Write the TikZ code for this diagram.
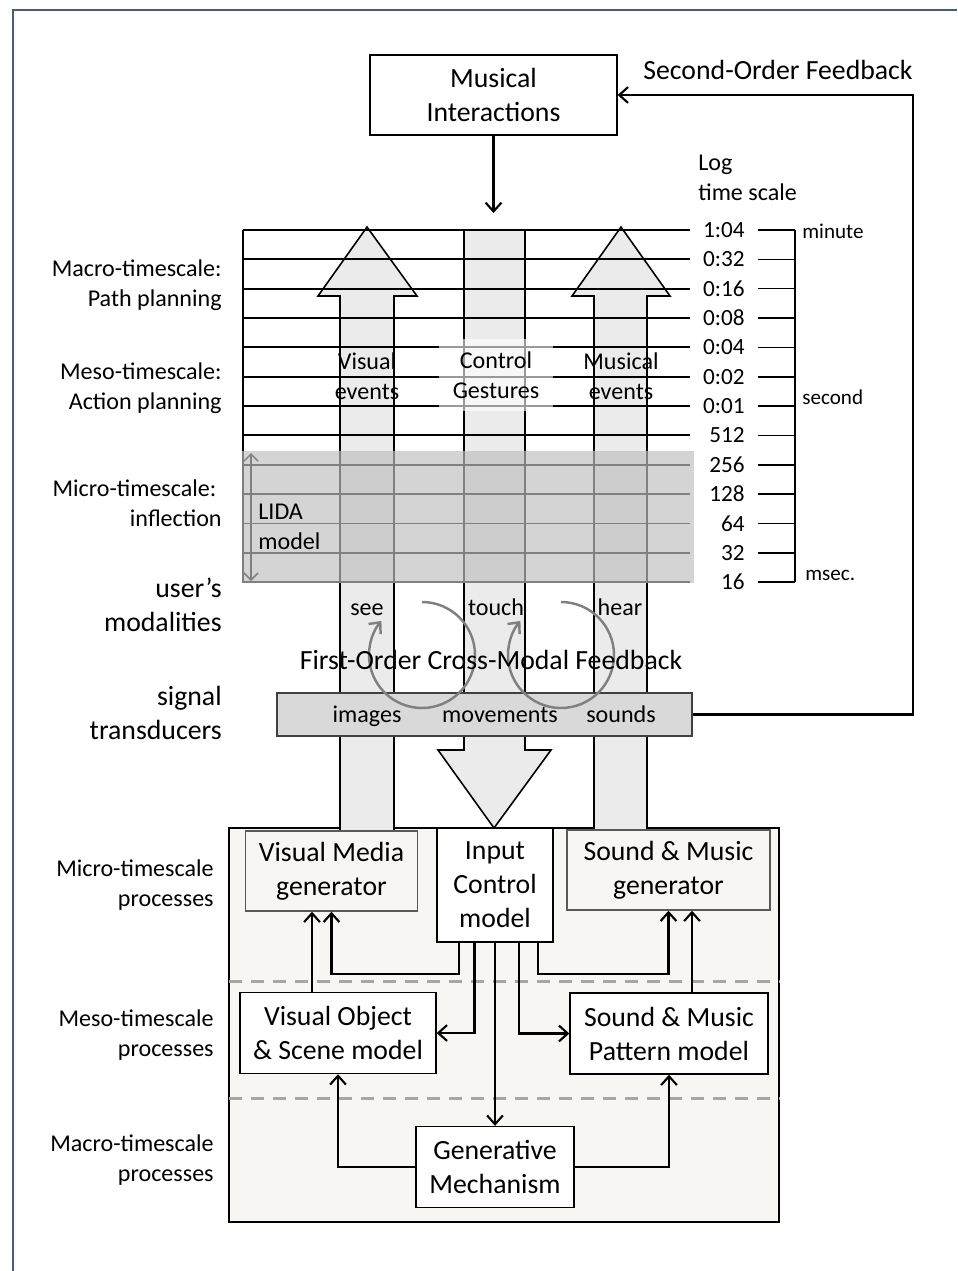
\documentclass[tikz,border=0pt]{standalone}
\usepackage{fontspec}
\setmainfont{Carlito}
\usetikzlibrary{arrows.meta,positioning}

\definecolor{framecol}{HTML}{4A5B7A}
\definecolor{shaftfill}{HTML}{EBEBEB}
\definecolor{basefill}{HTML}{F7F6F2}
\definecolor{bandfill}{HTML}{D9D9D9}

\begin{document}
\begin{tikzpicture}[x=0.02cm,y=-0.02cm,big/.style={font=\fontsize{15.8}{19.3}\selectfont},mid/.style={font=\fontsize{13.7}{16.8}\selectfont},sml/.style={font=\fontsize{12}{14}\selectfont},num/.style={font=\fontsize{13.2}{15}\selectfont},lbl/.style={mid, text height=1.8ex, text depth=0.45ex},box/.style={draw=black, fill=white, line width=0.8pt, align=center, inner sep=0pt, big},genbox/.style={box, draw=black!65, fill=basefill},shaft/.style={draw=black, fill=shaftfill, line width=0.9pt},gridline/.style={line width=1.1pt},link/.style={line width=1.2pt, -{Straight Barb[length=5pt,width=9pt]}},feedback/.style={draw=black!50, line width=1.4pt, -{Straight Barb[length=5pt,width=9pt]}},side/.style={mid, align=right, anchor=east, inner sep=0pt}]
\useasboundingbox (0,0) rectangle (957,1271);
\draw[framecol, line width=0.06cm] (13,1271) -- (13,10) -- (957,10);

% processing block
\draw[fill=basefill, line width=0.9pt] (229,828) rectangle (779,1222);
\draw[black!35, line width=0.06cm, dash pattern=on 0.26cm off 0.18cm] (229,981) -- (779,981) (229,1098) -- (779,1098);

% modality arrows
\draw[shaft] (340,834) -- (340,296) -- (318,296) -- (367,227) -- (417,296) -- (394,296) -- (394,834);
\draw[shaft] (594,834) -- (594,296) -- (572,296) -- (621,227) -- (670,296) -- (647,296) -- (647,834);
\draw[shaft] (464,230) -- (464,750) -- (438,750) -- (494,828) -- (551,750) -- (525,750) -- (525,230);

% time grid
\draw[gridline] (243,230) -- (243,583);
\foreach \lab [count=\i from 0] in {1:04,0:32,0:16,0:08,0:04,0:02,0:01,512,256,128,64,32,16}{
  \draw[gridline] (243,230+29.35*\i) -- (690,230+29.35*\i);
  \node[num, anchor=east, inner sep=0pt] (t\i) at (745,230+29.35*\i) {\lab};
  \draw[line width=0.9pt] (758,230+29.35*\i) -- (795,230+29.35*\i);
}
\draw[line width=0.9pt] (795,230) -- (795,582.2);
\node[sml, anchor=west, inner sep=0pt] (minute) at (802,231) {minute};
\node[sml, anchor=west, inner sep=0pt] (second) at (802,397) {second};
\node[sml, anchor=west, inner sep=0pt] (msec) at (805,575) {msec.};
\node[mid, align=left, anchor=west, inner sep=0pt] (logscale) at (698,178) {Log\\time scale};

\node[mid, align=center] (visev) at (367,376) {Visual\\events};
\node[mid, align=center, fill=white, fill opacity=0.6, text opacity=1, minimum width=2.3cm, minimum height=1.44cm, inner sep=0pt] (ctlges) at (496,375) {Control\\Gestures};
\node[mid, align=center] (musev) at (621,376) {Musical\\events};

% LIDA band
\fill[black!25, fill opacity=0.67] (242,451) rectangle (694,583);
\node[mid, align=left, anchor=west, inner sep=0pt] (lida) at (258,527) {LIDA\\model};
\draw[draw=black!50, line width=0.9pt, {Straight Barb[length=4pt,width=8pt]}-{Straight Barb[length=4pt,width=8pt]}] (251,453) -- (251,581);

% left labels
\node[side] (macro) at (222,285) {Macro-timescale:\\Path planning};
\node[side] (meso) at (222,388) {Meso-timescale:\\Action planning};
\node[side] (micro) at (222,503) {Micro-timescale:\kern0.22em\\inflection};
\node[side, big] (modal) at (222,605) {user’s\\modalities};
\node[side, big] (signal) at (222,713) {signal\\transducers};
\node[side] (microp) at (214,885) {Micro-timescale\\processes};
\node[side] (mesop) at (214,1035) {Meso-timescale\\processes};
\node[side] (macrop) at (214,1160) {Macro-timescale\\processes};

% modalities and transducers
\node[lbl] (see) at (367,610) {see};
\node[lbl] (touch) at (496,610) {touch};
\node[lbl] (hear) at (620,610) {hear};
\node[draw=black!75, fill=bandfill, line width=0.8pt, minimum width=8.3cm, minimum height=0.86cm] (st) at (484.5,714.5) {};
\node[lbl] (images) at (367,717) {images};
\node[lbl] (moves) at (500,717) {movements};
\node[lbl] (sounds) at (621,717) {sounds};
\draw[feedback] (422,602) arc[start angle=-90, end angle=220, radius=53];
\draw[feedback] (561,602) arc[start angle=-90, end angle=220, radius=53];
\node[big] (firstorder) at (491,660) {First-Order Cross-Modal Feedback};

% top
\node[box, minimum width=4.94cm, minimum height=1.6cm] (mi) at (493.5,95) {Musical\\Interactions};
\coordinate (gtop) at (493.5,213);
\draw[link] (mi.south) -- (gtop);
\node[big] (secondorder) at (778,70) {Second-Order Feedback};
\draw[link] (st.east) -- ++(220,0) |- (mi.east);

% processing boxes
\node[genbox, minimum width=3.44cm, minimum height=1.6cm] (vmg) at (331.5,871) {Visual Media\\generator};
\node[box, minimum width=2.32cm, minimum height=2.28cm] (icm) at (495,885) {Input\\Control\\model};
\node[genbox, minimum width=4.06cm, minimum height=1.6cm] (smg) at (668.5,870) {Sound \& Music\\generator};
\node[box, minimum width=3.92cm, minimum height=1.62cm] (vos) at (338,1033) {Visual Object\\\& Scene model};
\node[box, minimum width=3.96cm, minimum height=1.62cm] (smp) at (669,1033.5) {Sound \& Music\\Pattern model};
\node[box, minimum width=3.16cm, minimum height=1.62cm] (gen) at (495,1167) {Generative\\Mechanism};

\draw[link] (icm.south -| 459,0) -- ++(0,31) -| (vmg.south);
\draw[link] (vos.north -| 312,0) -- (vmg.south -| 312,0);
\draw[link] (icm.south -| 474.5,0) |- (vos.east);
\draw[link] (icm.south) -- (gen.north);
\draw[link] (icm.south -| 519,0) |- (smp.west);
\draw[link] (icm.south -| 538,0) -- ++(0,31) -| (smg.south);
\draw[link] (smp.north -| 692,0) -- (smg.south -| 692,0);
\draw[link] (gen.west) -| (vos.south);
\draw[link] (gen.east) -| (smp.south);
\end{tikzpicture}
\end{document}
